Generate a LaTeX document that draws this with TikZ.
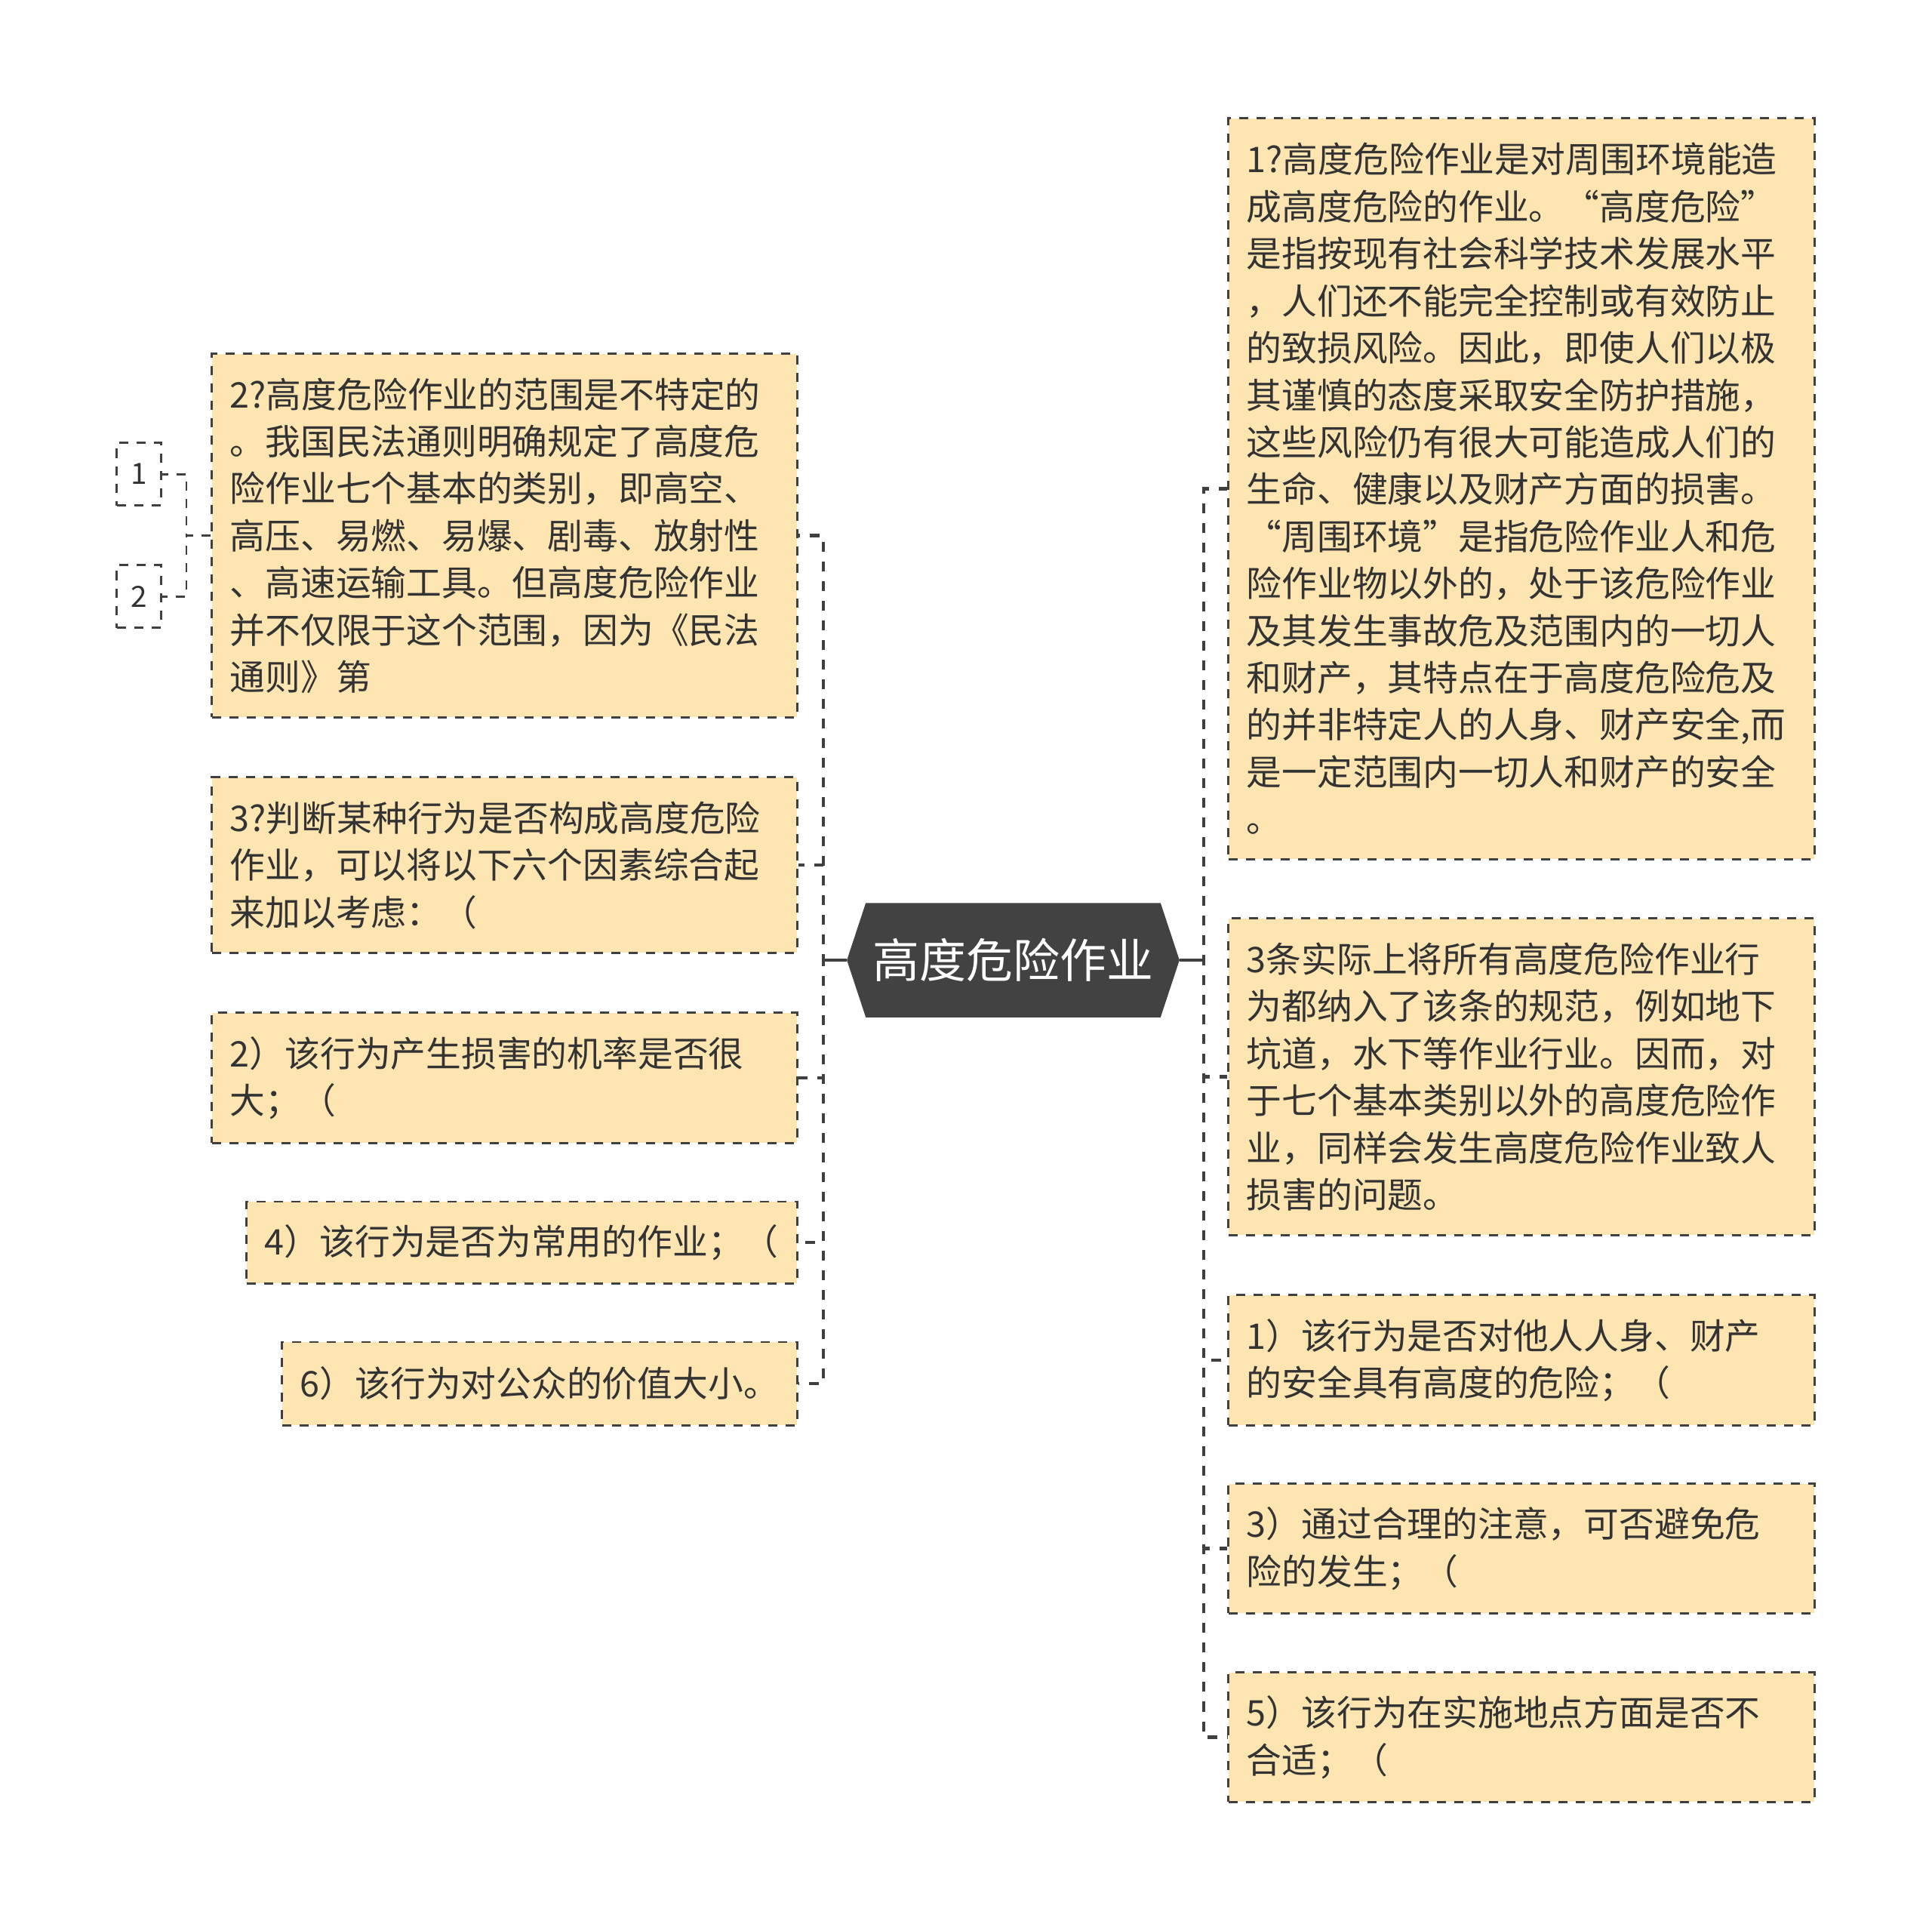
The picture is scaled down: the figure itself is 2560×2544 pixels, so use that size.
\documentclass[tikz,border=0pt]{standalone}
\usepackage{fontspec}
\setmainfont{Noto Sans CJK SC}
\usetikzlibrary{backgrounds}
\definecolor{boxfill}{RGB}{253,229,178}
\definecolor{ink}{RGB}{51,51,51}
\definecolor{lineclr}{RGB}{64,64,64}
\definecolor{hexfill}{RGB}{66,66,66}
\tikzset{
  leaf/.style={draw=lineclr, fill=boxfill, line width=0.85pt, dash pattern=on 0.12cm off 0.11cm,
    inner xsep=0.24cm, inner ysep=0pt, align=left, text=ink,
    font=\fontsize{13.3pt}{17.75pt}\selectfont},
  tag/.style={draw=lineclr, line width=0.85pt, dash pattern=on 0.12cm off 0.11cm,
    minimum width=0.58cm, minimum height=0.83cm, inner sep=0pt, text=ink,
    font=\fontsize{11pt}{13pt}\selectfont},
  conn/.style={draw=lineclr, line width=1.4pt, dash pattern=on 0.13cm off 0.13cm},
  thinconn/.style={draw=lineclr, line width=0.85pt, dash pattern=on 0.12cm off 0.11cm},
  stub/.style={draw=lineclr, line width=1.4pt},
}
\begin{document}
\begin{tikzpicture}[x=0.01cm,y=-0.01cm]
\useasboundingbox (0,0) rectangle (2560,2544);

% central node
\node[minimum width=3.89cm, minimum height=1.5cm, inner sep=0pt, text=white,
  font=\fontsize{17.6pt}{20pt}\selectfont] (c) at (1342.5,1272) {高度危险作业};
\begin{scope}[on background layer]
\fill[hexfill] ([xshift=-0.25cm]c.west) -- (c.north west) -- (c.north east)
  -- ([xshift=0.25cm]c.east) -- (c.south east) -- (c.south west) -- cycle;
\end{scope}
\coordinate (cw) at ([xshift=-0.25cm]c.west);
\coordinate (ce) at ([xshift=0.25cm]c.east);
\coordinate (tl) at (1091,1272);
\coordinate (tr) at (1595,1272);

% left nodes
\node[leaf, text width=7.27cm, minimum height=4.81cm] (L1) at (668.5,709.5) {2?高度危险作业的范围是不特定的\\。我国民法通则明确规定了高度危\\险作业七个基本的类别，即高空、\\高压、易燃、易爆、剧毒、放射性\\、高速运输工具。但高度危险作业\\并不仅限于这个范围，因为《民法\\通则》第};
\node[leaf, text width=7.27cm, minimum height=2.32cm] (L2) at (668.5,1146) {3?判断某种行为是否构成高度危险\\作业，可以将以下六个因素综合起\\来加以考虑：（};
\node[leaf, text width=7.27cm, minimum height=1.72cm] (L3) at (668.5,1428) {2）该行为产生损害的机率是否很\\大；（};
\node[leaf, text width=6.81cm, minimum height=1.08cm] (L4) at (691.5,1646) {4）该行为是否为常用的作业；（};
\node[leaf, text width=6.34cm, minimum height=1.10cm] (L5) at (715,1833) {6）该行为对公众的价值大小。};

% right nodes
\node[leaf, text width=7.28cm, minimum height=9.81cm] (R1) at (2016,647.5) {1?高度危险作业是对周围环境能造\\成高度危险的作业。“高度危险”\\是指按现有社会科学技术发展水平\\，人们还不能完全控制或有效防止\\的致损风险。因此，即使人们以极\\其谨慎的态度采取安全防护措施，\\这些风险仍有很大可能造成人们的\\生命、健康以及财产方面的损害。\\“周围环境”是指危险作业人和危\\险作业物以外的，处于该危险作业\\及其发生事故危及范围内的一切人\\和财产，其特点在于高度危险危及\\的并非特定人的人身、财产安全,而\\是一定范围内一切人和财产的安全\\。};
\node[leaf, text width=7.28cm, minimum height=4.19cm] (R2) at (2016,1426.5) {3条实际上将所有高度危险作业行\\为都纳入了该条的规范，例如地下\\坑道，水下等作业行业。因而，对\\于七个基本类别以外的高度危险作\\业，同样会发生高度危险作业致人\\损害的问题。};
\node[leaf, text width=7.28cm, minimum height=1.72cm] (R3) at (2016,1802) {1）该行为是否对他人人身、财产\\的安全具有高度的危险；（};
\node[leaf, text width=7.28cm, minimum height=1.71cm] (R4) at (2016,2051.5) {3）通过合理的注意，可否避免危\\险的发生；（};
\node[leaf, text width=7.28cm, minimum height=1.71cm] (R5) at (2016,2301.5) {5）该行为在实施地点方面是否不\\合适；（};

% small tags
\node[tag] (s1) at (184,628) {1};
\node[tag] (s2) at (184,790) {2};
\coordinate (sj) at (247,709.5);

% connectors (all start at the centre so the shared trunk dashes line up)
\foreach \n in {L1,L2,L3,L4,L5} \draw[conn] (cw) -- (tl) |- (\n.east);
\foreach \n in {R1,R2,R3,R4,R5} \draw[conn] (ce) -- (tr) |- (\n.west);
\draw[stub] (cw) -- (tl);
\draw[stub] (ce) -- (tr);
\draw[thinconn] (L1.west) -- (sj) |- (s1.east);
\draw[thinconn] (L1.west) -- (sj) |- (s2.east);
\end{tikzpicture}
\end{document}
